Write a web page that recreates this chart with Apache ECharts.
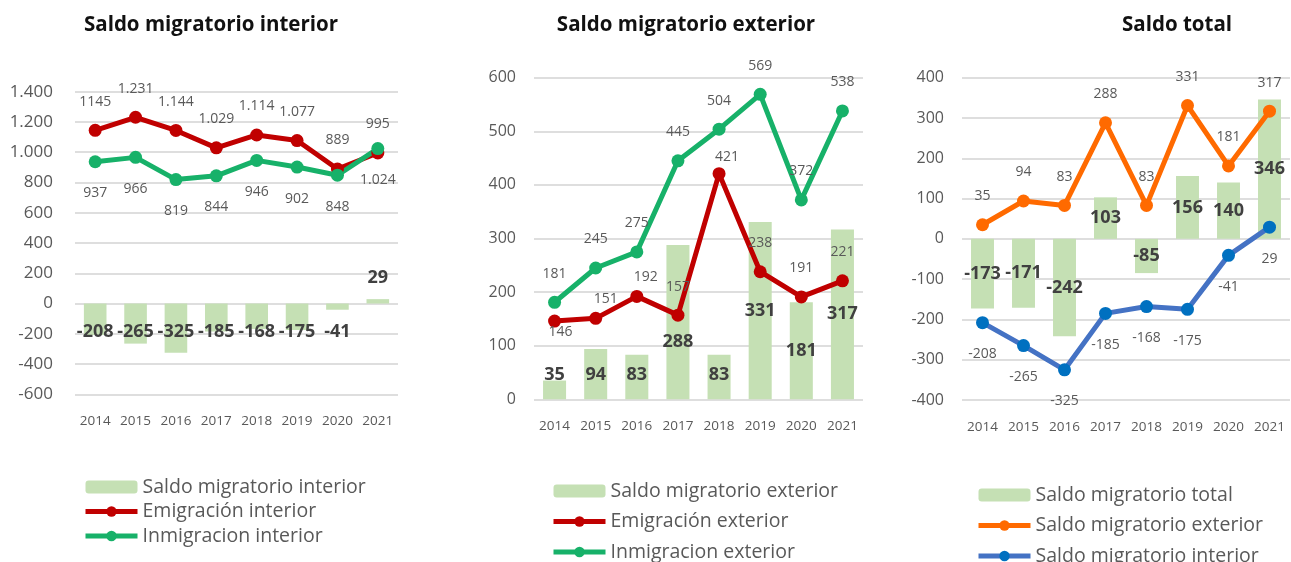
<!DOCTYPE html>
<html><head><meta charset="utf-8">
<script src="https://cdn.jsdelivr.net/npm/echarts@6/dist/echarts.min.js"></script>
<style>html,body{margin:0;padding:0;background:#fff;overflow:hidden;width:1291px;height:562px;}.c{position:absolute;left:0;top:0;width:1291px;height:640px;}</style>
</head><body>
<div id="c1" class="c"></div><div id="c2" class="c"></div><div id="c3" class="c"></div>
<script>
// ---------- DATA ----------
const years = ['2014','2015','2016','2017','2018','2019','2020','2021'];
// Chart 1: Saldo migratorio interior
const saldoInterior = [-208,-265,-325,-185,-168,-175,-41,29];
const emigracionInterior = [1145,1231,1144,1029,1114,1077,889,995];
const emigracionInteriorLabels = ['1145','1.231','1.144','1.029','1.114','1.077','889','995'];
const inmigracionInterior = [937,966,819,844,946,902,848,1024];
const inmigracionInteriorLabels = ['937','966','819','844','946','902','848','1.024'];
// Chart 2: Saldo migratorio exterior
const saldoExterior = [35,94,83,288,83,331,181,317];
const emigracionExterior = [146,151,192,157,421,238,191,221];
const inmigracionExterior = [181,245,275,445,504,569,372,538];
// Chart 3: Saldo total
const saldoTotal = [-173,-171,-242,103,-85,156,140,346];

// ---------- STYLE ----------
const FONT = '"Open Sans", sans-serif';
const GRAY = '#595959', DARK = '#404040', BAR = '#C5E0B4', GRID = '#DEDEDE';
const RED = '#C00000', GREEN = '#17B169', ORANGE = '#FF6A00', BLUE = '#4472C4', BLUE_DOT = '#0070C0';
const fmtThousands = v => { const s = Math.abs(v).toString().replace(/\B(?=(\d{3})+(?!\d))/g, '.'); return (v < 0 ? '-' : '') + s; };

function base(o) {
  return {
    animation: false,
    textStyle: { fontFamily: FONT },
    title: { text: o.title, left: o.titleX, top: 10, textAlign: 'center',
      textStyle: { fontFamily: FONT, fontWeight: 'bold', fontSize: 20.5, color: '#111' } },
    grid: { left: o.grid[0], top: o.grid[1], width: o.grid[2], height: o.grid[3], containLabel: false },
    xAxis: { type: 'category', data: years, axisLine: { show: false }, axisTick: { show: false },
      axisLabel: { color: GRAY, fontSize: 13.5, margin: 20, interval: 0, fontFamily: FONT } },
    yAxis: { type: 'value', min: o.min, max: o.max, interval: o.interval,
      axisLine: { show: false }, axisTick: { show: false },
      axisLabel: { color: GRAY, fontSize: o.yFont, margin: o.yMargin, fontFamily: FONT, formatter: fmtThousands },
      splitLine: { lineStyle: { color: GRID, width: 2 } } },
    legend: { orient: 'vertical', left: o.legend[0], top: o.legend[1], itemGap: o.legend[2],
      itemWidth: 52, itemHeight: 13, lineStyle: { width: 5 },
      textStyle: { fontFamily: FONT, fontSize: 19.5, color: GRAY } },
    series: o.series
  };
}
const lineSeries = (name, data, color, dotColor, labelFn) => ({
  name, type: 'line', data, symbol: 'circle', symbolSize: 13, z: 3,
  lineStyle: { color, width: 5 }, itemStyle: { color: dotColor || color },
  label: Object.assign({ show: true, color: GRAY, fontSize: 14, fontFamily: FONT }, labelFn)
});
const barLabel = { show: true, color: DARK, fontSize: 18, fontWeight: 'bold', fontFamily: FONT };

// ---------- CHART 1 ----------
echarts.init(document.getElementById('c1')).setOption(base({
  title: 'Saldo migratorio interior', titleX: 206,
  grid: [75, 91.7, 323, 302.6], min: -600, max: 1400, interval: 200, yFont: 17, yMargin: 22,
  legend: [78, 472, 4.5],
  series: [
    { name: 'Saldo migratorio interior', type: 'bar', barWidth: '56%', itemStyle: { color: BAR },
      data: saldoInterior.map(v => ({ value: v,
        label: v < 0 ? { position: 'insideTop', distance: 19 } : { position: 'top', distance: 12 } })),
      label: barLabel },
    lineSeries('Emigración interior', emigracionInterior, RED, null,
      { position: 'top', distance: 15, formatter: p => emigracionInteriorLabels[p.dataIndex] }),
    lineSeries('Inmigracion interior', inmigracionInterior, GREEN, null,
      { position: 'bottom', distance: 18, formatter: p => inmigracionInteriorLabels[p.dataIndex] })
  ]
}));

// ---------- CHART 2 ----------
const redExtLabel = { 0: { position: 'bottom', distance: -3, offset: [6, 0] },
  1: { distance: 6, offset: [10, 0] }, 2: { distance: 6, offset: [9, 0] }, 4: { distance: 3, offset: [8, 0] } };
echarts.init(document.getElementById('c2')).setOption(base({
  title: 'Saldo migratorio exterior', titleX: 681,
  grid: [534, 77.7, 329, 321.6], min: 0, max: 600, interval: 100, yFont: 16, yMargin: 18,
  legend: [546, 476, 10.5],
  series: [
    { name: 'Saldo migratorio exterior', type: 'bar', barWidth: '56%', itemStyle: { color: BAR },
      data: saldoExterior.map((v, i) => ({ value: v,
        label: v < 100 ? { position: 'insideBottom', distance: 15 } : (i === 3 ? { position: 'inside', offset: [0, 20] } : { position: 'inside' }) })),
      label: barLabel },
    Object.assign(lineSeries('Emigración exterior', [], RED, null, { position: 'top', distance: 15 }),
      { data: emigracionExterior.map((v, i) => redExtLabel[i] ? { value: v, label: redExtLabel[i] } : v) }),
    lineSeries('Inmigracion exterior', inmigracionExterior, GREEN, null, { position: 'top', distance: 15 })
  ]
}));

// ---------- CHART 3 ----------
echarts.init(document.getElementById('c3')).setOption(base({
  title: 'Saldo total', titleX: 1172,
  grid: [962, 77.7, 328, 322.3], min: -400, max: 400, interval: 100, yFont: 16, yMargin: 18,
  legend: [971, 480, 10.5],
  series: [
    { name: 'Saldo migratorio total', type: 'bar', barWidth: '56%', itemStyle: { color: BAR },
      data: saldoTotal, label: Object.assign({ position: 'inside' }, barLabel) },
    lineSeries('Saldo migratorio exterior', saldoExterior, ORANGE, null, { position: 'top', distance: 15 }),
    lineSeries('Saldo migratorio interior', saldoInterior, BLUE, BLUE_DOT, { position: 'bottom', distance: 18 })
  ]
}));
</script>
</body></html>
